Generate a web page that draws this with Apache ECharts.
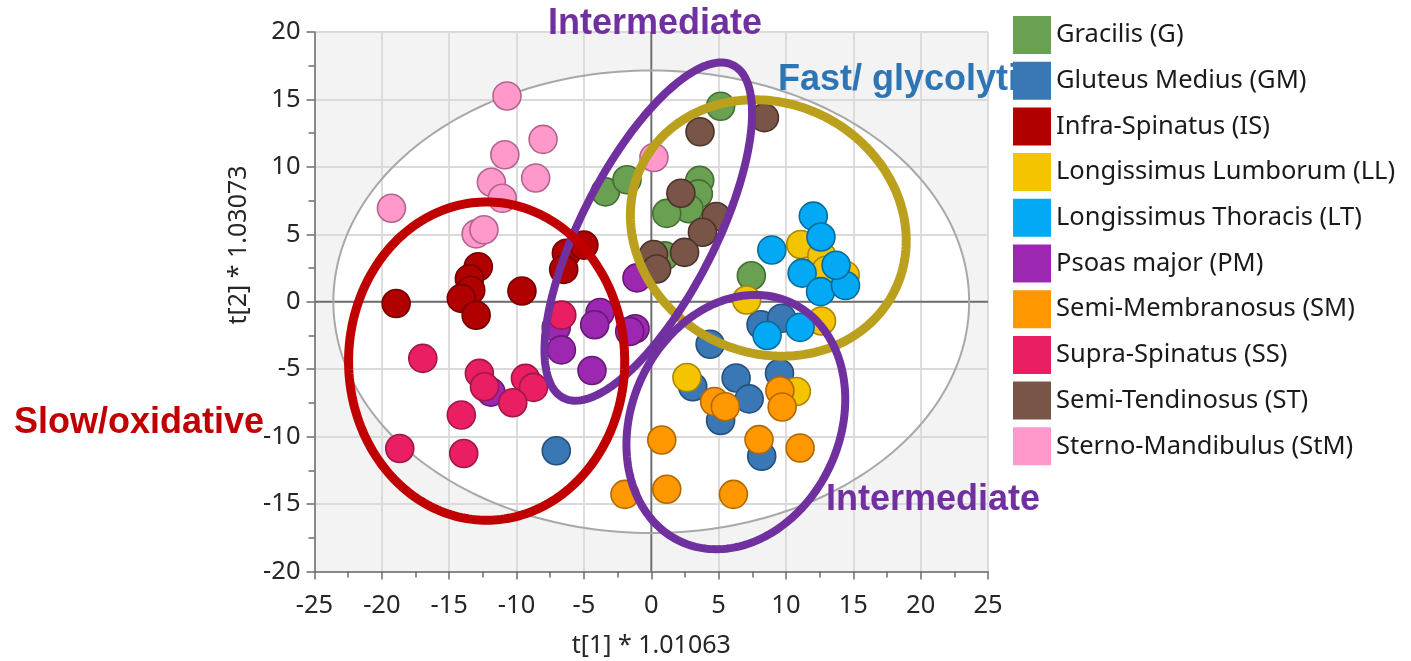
<!DOCTYPE html>
<html>
<head>
<meta charset="utf-8">
<script src="https://cdn.jsdelivr.net/npm/echarts@6/dist/echarts.min.js"></script>
<style>
  html, body { margin: 0; padding: 0; background: #ffffff; }
  #chart { width: 1411px; height: 661px; }
</style>
</head>
<body>
<div id="chart"></div>
<script>
// Muscle groups (legend order) and their PCA scores [t1, t2]
const muscleNames = [
  'Gracilis (G)',
  'Gluteus Medius (GM)',
  'Infra-Spinatus (IS)',
  'Longissimus Lumborum (LL)',
  'Longissimus Thoracis (LT)',
  'Psoas major (PM)',
  'Semi-Membranosus (SM)',
  'Supra-Spinatus (SS)',
  'Semi-Tendinosus (ST)',
  'Sterno-Mandibulus (StM)'
];

const gracilis = [[5.15, 14.5], [3.6, 9.0], [3.5, 8.0], [2.8, 6.9], [1.15, 6.55], [-3.4, 8.15], [-1.8, 9.05], [1.0, 3.4], [7.43, 1.93]];
const gluteusMedius = [[8.15, -1.7], [9.68, -1.22], [4.37, -3.15], [3.08, -6.3], [6.3, -5.65], [7.27, -7.2], [5.15, -8.8], [9.52, -5.3], [8.2, -11.45], [-7.05, -11.05]];
const infraSpinatus = [[-18.94, -0.13], [-12.84, 2.6], [-13.5, 1.7], [-13.4, 0.85], [-14.1, 0.25], [-13.0, -1.0], [-9.6, 0.8], [-6.3, 3.6], [-5.0, 4.2], [-6.5, 2.4]];
const longissimusLumborum = [[11.1, 4.25], [12.66, 3.4], [12.98, 2.33], [14.4, 1.97], [7.08, 0.13], [12.64, -1.43], [2.65, -5.62], [10.77, -6.65]];
const longissimusThoracis = [[12.03, 6.35], [12.6, 4.8], [8.95, 3.84], [11.2, 2.12], [12.57, 0.75], [14.42, 1.2], [13.72, 2.71], [11.05, -1.9], [8.6, -2.5]];
const psoasMajor = [[-1.06, 1.77], [-3.8, -0.8], [-4.2, -1.7], [-7.05, -1.9], [-6.67, -3.57], [-1.2, -2.0], [-1.6, -2.2], [-4.4, -5.1], [-11.9, -6.7]];
const semiMembranosus = [[0.78, -10.25], [-1.95, -14.28], [1.15, -13.9], [6.1, -14.28], [4.7, -7.4], [5.5, -7.78], [9.55, -6.6], [9.72, -7.8], [8.0, -10.22], [11.05, -10.84]];
const supraSpinatus = [[-6.64, -0.99], [-16.96, -4.2], [-12.76, -5.31], [-12.38, -6.3], [-9.34, -5.68], [-8.74, -6.35], [-10.28, -7.49], [-14.1, -8.4], [-18.67, -10.88], [-13.92, -11.25]];
const semiTendinosus = [[8.4, 13.65], [3.62, 12.6], [2.2, 8.05], [4.82, 6.32], [3.8, 5.15], [2.47, 3.66], [0.17, 3.5], [0.4, 2.43]];
const sternoMandibulus = [[-10.71, 15.26], [-8.03, 12.04], [-10.87, 10.9], [-8.58, 9.18], [-11.87, 8.86], [-11.06, 7.67], [-19.29, 6.93], [-13.0, 5.03], [-12.42, 5.34], [0.2, 10.7]];

const muscleScores = [gracilis, gluteusMedius, infraSpinatus, longissimusLumborum, longissimusThoracis,
  psoasMajor, semiMembranosus, supraSpinatus, semiTendinosus, sternoMandibulus];

// Axis ticks
const xTicks = [-25, -20, -15, -10, -5, 0, 5, 10, 15, 20, 25];
const yTicks = [-20, -15, -10, -5, 0, 5, 10, 15, 20];
const xAxisTitle = 't[1] * 1.01063';
const yAxisTitle = 't[2] * 1.03073';

// Marker fill / outline colours
const fillColors = ['#6aa051', '#3a78b5', '#b00000', '#f5c400', '#03a9f4', '#9c27b0', '#ff9800', '#e91e63', '#795548', '#ff99cc'];
const edgeColors = ['#456e33', '#22507e', '#740000', '#a88600', '#0a6b98', '#651a73', '#b06800', '#a0164a', '#4b332b', '#b4648c'];

// Hotelling T2 (95%) confidence ellipse
const hotelling = { cx: 0, cy: 0, rx: 23.6, ry: 17.15, angle: 0 };

// Hand-drawn grouping ellipses
const groupRings = [
  { cx: 8.69, cy: 5.47, rx: 10.47, ry: 9.25, angle: -26.5, color: '#bba01e', width: 9 },
  { cx: -0.22, cy: 5.2, rx: 13.85, ry: 4.97, angle: 62.9, color: '#7030a0', width: 8 },
  { cx: 6.28, cy: -8.92, rx: 9.76, ry: 7.72, angle: 65, color: '#7030a0', width: 8 },
  { cx: -12.22, cy: -4.4, rx: 10.25, ry: 11.8, angle: 0, color: '#c00000', width: 9 }
];

function ellipsePoints(e, api, n) {
  const a = e.angle * Math.PI / 180;
  const pts = [];
  for (let i = 0; i < n; i++) {
    const t = 2 * Math.PI * i / n;
    const dx = e.rx * Math.cos(t), dy = e.ry * Math.sin(t);
    pts.push(api.coord([
      e.cx + dx * Math.cos(a) - dy * Math.sin(a),
      e.cy + dx * Math.sin(a) + dy * Math.cos(a)
    ]));
  }
  return pts;
}

const chart = echarts.init(document.getElementById('chart'), null, { renderer: 'canvas' });

const tickFont = 'Noto Sans';
const labelBold = 'bold 36px "Liberation Sans", Arial, sans-serif';

const scatterSeries = muscleNames.map((name, i) => ({
  name: name,
  type: 'scatter',
  z: 2,
  data: muscleScores[i],
  symbol: 'circle',
  symbolSize: 28,
  itemStyle: { color: fillColors[i], borderColor: edgeColors[i], borderWidth: 1.6, opacity: 1 },
  emphasis: { disabled: true }
}));

const option = {
  animation: false,
  grid: { left: 314.5, top: 32, width: 673.5, height: 539.5, containLabel: false, outerBoundsMode: 'none' },
  xAxis: {
    type: 'value', min: -25, max: 25, interval: 5,
    axisLine: { show: true, onZero: false, lineStyle: { color: '#6e6e6e', width: 1.5 } },
    axisTick: { show: true, length: 8, lineStyle: { color: '#6e6e6e', width: 1.5 } },
    minorTick: { show: true, splitNumber: 2, length: 6, lineStyle: { color: '#6e6e6e', width: 1.5 } },
    splitLine: { show: true, lineStyle: { color: '#dadada', width: 1.8 } },
    axisLabel: {
      margin: 21, color: '#262626', fontSize: 25.5, fontFamily: tickFont,
      formatter: v => (xTicks.indexOf(v) >= 0 ? String(v) : '')
    },
    name: xAxisTitle, nameLocation: 'middle', nameGap: 62,
    nameTextStyle: { color: '#262626', fontSize: 25, fontFamily: tickFont }
  },
  yAxis: {
    type: 'value', min: -20, max: 20, interval: 5,
    axisLine: { show: true, onZero: false, lineStyle: { color: '#6e6e6e', width: 1.5 } },
    axisTick: { show: true, length: 8, lineStyle: { color: '#6e6e6e', width: 1.5 } },
    minorTick: { show: true, splitNumber: 2, length: 6, lineStyle: { color: '#6e6e6e', width: 1.5 } },
    splitLine: { show: true, lineStyle: { color: '#dadada', width: 1.8 } },
    axisLabel: {
      margin: 14, color: '#262626', fontSize: 25.5, fontFamily: tickFont,
      formatter: v => (yTicks.indexOf(v) >= 0 ? String(v) : '')
    }
  },
  legend: {
    data: muscleNames,
    orient: 'vertical',
    left: 1013, top: 16,
    padding: 0,
    itemWidth: 38, itemHeight: 38, itemGap: 7.7,
    icon: 'rect',
    selectedMode: false,
    z: 6,
    itemStyle: { borderWidth: 0 },
    textStyle: { fontSize: 25.5, color: '#1a1a1a', fontFamily: tickFont }
  },
  graphic: [
    {
      type: 'text', x: 239, y: 245, rotation: Math.PI / 2, z: 3,
      style: { text: yAxisTitle, fill: '#262626', font: '25px "Noto Sans"', textAlign: 'center', textVerticalAlign: 'middle' }
    },
    {
      type: 'text', x: 548, y: 24, z: 3,
      style: { text: 'Intermediate', fill: '#7030a0', font: labelBold, textAlign: 'left', textVerticalAlign: 'middle' }
    },
    {
      type: 'text', x: 778, y: 80, z: 3,
      style: { text: 'Fast/ glycolytic', fill: '#2e75b6', font: labelBold, textAlign: 'left', textVerticalAlign: 'middle' }
    },
    {
      type: 'text', x: 826, y: 500, z: 3,
      style: { text: 'Intermediate', fill: '#7030a0', font: labelBold, textAlign: 'left', textVerticalAlign: 'middle' }
    },
    {
      type: 'text', x: 14, y: 423, z: 3,
      style: { text: 'Slow/oxidative', fill: '#c00000', font: labelBold, textAlign: 'left', textVerticalAlign: 'middle' }
    }
  ],
  series: [
    {
      // plot background with the white interior of the confidence ellipse
      type: 'custom', z: -1, silent: true,
      data: [[0, 0]],
      renderItem: (params, api) => {
        const cs = params.coordSys;
        return {
          type: 'group',
          children: [
            { type: 'rect', shape: { x: cs.x, y: cs.y, width: cs.width, height: cs.height }, style: { fill: '#f3f3f3' } },
            { type: 'polygon', shape: { points: ellipsePoints(hotelling, api, 240) }, style: { fill: '#ffffff' } }
          ]
        };
      }
    },
    {
      // origin lines and confidence ellipse outline
      type: 'custom', z: 1, silent: true,
      data: [[0, 0]],
      renderItem: (params, api) => {
        const x0 = api.coord([xTicks[0], 0]), x1 = api.coord([xTicks[xTicks.length - 1], 0]);
        const y0 = api.coord([0, yTicks[0]]), y1 = api.coord([0, yTicks[yTicks.length - 1]]);
        return {
          type: 'group',
          children: [
            { type: 'line', shape: { x1: x0[0], y1: x0[1], x2: x1[0], y2: x1[1] }, style: { stroke: '#6e6e6e', lineWidth: 1.8 } },
            { type: 'line', shape: { x1: y0[0], y1: y0[1], x2: y1[0], y2: y1[1] }, style: { stroke: '#6e6e6e', lineWidth: 1.8 } },
            { type: 'polygon', shape: { points: ellipsePoints(hotelling, api, 240) }, style: { fill: 'none', stroke: '#a8a8a8', lineWidth: 2 } }
          ]
        };
      }
    },
    ...scatterSeries,
    {
      // grouping rings drawn over the scores
      type: 'custom', z: 3, silent: true,
      data: [[0, 0]],
      renderItem: (params, api) => ({
        type: 'group',
        children: groupRings.map(r => ({
          type: 'polygon',
          shape: { points: ellipsePoints(r, api, 240) },
          style: { fill: 'none', stroke: r.color, lineWidth: r.width }
        }))
      })
    }
  ]
};

chart.setOption(option);
</script>
</body>
</html>
